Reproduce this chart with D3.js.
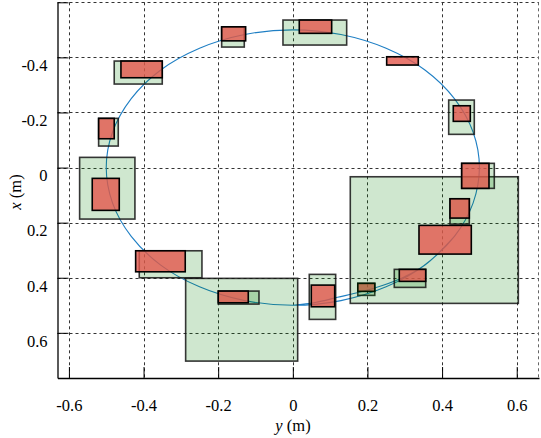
<!DOCTYPE html>
<html><head><meta charset="utf-8">
<script src="https://cdn.jsdelivr.net/npm/d3@7"></script>
</head><body style="margin:0">
<svg id="c" width="541" height="438"></svg>
<script>
// ---- data (horizontal axis = y in m, vertical axis = x in m, x grows downward)
const xTickValues = [-0.6, -0.4, -0.2, 0, 0.2, 0.4, 0.6];
const xTickLabels = ["-0.6", "-0.4", "-0.2", "0", "0.2", "0.4", "0.6"];
const yTickValues = [-0.6, -0.4, -0.2, 0, 0.2, 0.4, 0.6];
const yTickLabels = ["", "-0.4", "-0.2", "0", "0.2", "0.4", "0.6"];

// trajectory points [y, x]
const trajectory = [
  [0.0, 0.5], [0.06, 0.49], [0.12, 0.471], [0.18, 0.452], [0.24, 0.428], [0.30, 0.396], [0.35, 0.357],
  [0.433, 0.25], [0.483, 0.129], [0.5, 0.0], [0.483, -0.129], [0.433, -0.25], [0.354, -0.354],
  [0.25, -0.433], [0.129, -0.483], [0.0, -0.5], [-0.129, -0.483], [-0.25, -0.433], [-0.354, -0.354],
  [-0.433, -0.25], [-0.483, -0.129], [-0.5, 0.0], [-0.483, 0.129], [-0.433, 0.25], [-0.354, 0.354],
  [-0.25, 0.433], [-0.129, 0.483], [0.0, 0.5], [0.129, 0.483], [0.25, 0.433], [0.354, 0.354], [0.433, 0.25]
];

// boxes [yMin, yMax, xMin, xMax], in drawing order (green then red of each step)
const greenBoxes = [
  [-0.5713, -0.4231, -0.0370, 0.1870],
  [-0.5204, -0.4678, -0.1786, -0.0781],
  [-0.4786, -0.3499, -0.3867, -0.3032],
  [-0.1907, -0.1301, -0.5100, -0.4375],
  [-0.0264, 0.1443, -0.5356, -0.4448],
  null,
  [0.4177, 0.4863, -0.2451, -0.1206],
  [0.1741, 0.2196, 0.4204, 0.4640],
  [0.1540, 0.6043, 0.0334, 0.4931],
  [0.2719, 0.3561, 0.3696, 0.4350],
  [0.4212, 0.4729, 0.1133, 0.2052],
  [0.4525, 0.5399, -0.0153, 0.0755],
  [-0.2872, 0.0130, 0.4023, 0.7026],
  [-0.1998, -0.0907, 0.4484, 0.4956],
  [0.0441, 0.1148, 0.3878, 0.5512],
  [-0.4115, -0.2435, 0.3021, 0.4001]
];
const redBoxes = [
  [-0.5375, -0.4651, 0.0392, 0.1554],
  [-0.5204, -0.4786, -0.1786, -0.1046],
  [-0.4606, -0.3499, -0.3867, -0.3261],
  [-0.1907, -0.1264, -0.5110, -0.4600],
  [0.0173, 0.1041, -0.5356, -0.4873],
  [0.2515, 0.3362, -0.4023, -0.3722],
  [0.4300, 0.4756, -0.2244, -0.1678],
  [0.1741, 0.2196, 0.4204, 0.4495],
  [0.3381, 0.4783, 0.2099, 0.3141],
  [0.2853, 0.3561, 0.3696, 0.4132],
  [0.4212, 0.4729, 0.1133, 0.1834],
  [0.4525, 0.5257, -0.0153, 0.0755],
  null,
  [-0.1998, -0.1194, 0.4484, 0.4909],
  [0.0495, 0.1122, 0.4267, 0.5054],
  [-0.4212, -0.2883, 0.3021, 0.3784]
];

// ---- drawing
const svg = d3.select("#c");
const L = 57.5, R = 539, T = 2.3, B = 378;
const FS = 16.5;
const SERIF = "'Liberation Serif'";
const x = d3.scaleLinear().domain([-0.6306, 0.6597]).range([L, R]);
const y = d3.scaleLinear().domain([-0.6, 0.764]).range([T, B]);

// grid
const grid = svg.append("g").attr("stroke", "#333").attr("stroke-width", 1).attr("stroke-dasharray", "3,3").attr("fill", "none");
grid.selectAll("line.v").data(xTickValues).join("line").attr("class", "v")
  .attr("x1", d => Math.round(x(d)) + 0.5).attr("x2", d => Math.round(x(d)) + 0.5).attr("y1", T).attr("y2", B);
grid.selectAll("line.h").data(yTickValues).join("line").attr("class", "h")
  .attr("y1", d => Math.round(y(d)) + 0.5).attr("y2", d => Math.round(y(d)) + 0.5).attr("x1", L).attr("x2", R);
grid.append("line").attr("x1", R - 0.5).attr("x2", R - 0.5).attr("y1", T).attr("y2", B).attr("stroke", "#666");

// trajectory
svg.append("path").datum(trajectory)
  .attr("d", d3.line().x(d => x(d[0])).y(d => y(d[1])).curve(d3.curveCatmullRom.alpha(0.5)))
  .attr("fill", "none").attr("stroke", "#1f7fc4").attr("stroke-width", 1.1);

// boxes
const boxes = svg.append("g");
greenBoxes.forEach((g, i) => {
  if (g) boxes.append("rect")
    .attr("x", x(g[0])).attr("y", y(g[2]))
    .attr("width", x(g[1]) - x(g[0])).attr("height", y(g[3]) - y(g[2]))
    .attr("fill", "rgba(0,128,0,0.19)").attr("stroke", "rgba(20,20,20,0.85)").attr("stroke-width", 1.6);
  const r = redBoxes[i];
  if (r) boxes.append("rect")
    .attr("x", x(r[0])).attr("y", y(r[2]))
    .attr("width", x(r[1]) - x(r[0])).attr("height", y(r[3]) - y(r[2]))
    .attr("fill", "rgba(228,88,76,0.8)").attr("stroke", "#000").attr("stroke-width", 1.6);
});

// axes
const xAxis = d3.axisBottom(x).tickValues(xTickValues).tickFormat((d, i) => xTickLabels[i])
  .tickSizeInner(-11).tickSizeOuter(0).tickPadding(21);
const gx = svg.append("g").attr("transform", `translate(0,${B})`).call(xAxis);
const yAxis = d3.axisLeft(y).tickValues(yTickValues).tickFormat((d, i) => yTickLabels[i])
  .tickSizeInner(-11).tickSizeOuter(0).tickPadding(10);
const gy = svg.append("g").attr("transform", `translate(${L},0)`).call(yAxis);
[gx, gy].forEach(g => {
  g.select(".domain").attr("stroke", "#000").attr("stroke-width", 1.3);
  g.selectAll(".tick line").attr("stroke", "#000").attr("stroke-width", 1);
  g.selectAll("text").attr("font-size", FS).style("font-family", SERIF);
});
gy.selectAll(".tick text").attr("transform", "translate(0,8)");

// axis titles
const xt = svg.append("text").attr("x", 293).attr("y", 431).attr("text-anchor", "middle")
  .attr("font-size", FS).style("font-family", SERIF);
xt.append("tspan").attr("font-style", "italic").text("y");
xt.append("tspan").text(" (m)");
const yt = svg.append("text").attr("transform", "translate(21,192) rotate(-90)").attr("text-anchor", "middle")
  .attr("font-size", FS).style("font-family", SERIF);
yt.append("tspan").attr("font-style", "italic").text("x");
yt.append("tspan").text(" (m)");
</script>
</body></html>
